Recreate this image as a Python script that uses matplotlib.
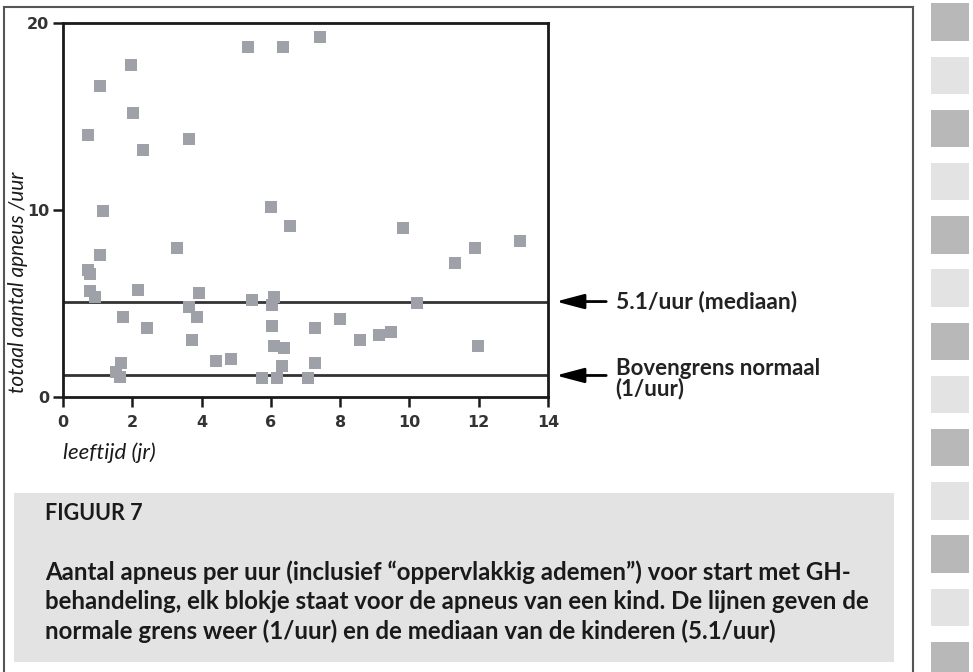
import matplotlib
matplotlib.use("Agg")
import matplotlib.pyplot as plt
from matplotlib.patches import Rectangle
from matplotlib.lines import Line2D

# leeftijd (jr) en aantal apneus per uur per kind
ages = [0.72, 1.06, 1.97, 2.03, 2.32, 1.15, 1.06, 0.72, 0.79, 0.79, 0.93, 2.17,
        1.73, 2.42, 1.67, 1.53, 1.65, 3.30, 3.64, 3.64, 3.87, 3.94, 3.71, 4.43,
        4.85, 5.35, 6.36, 7.41, 6.00, 6.56, 5.45, 6.10, 6.04, 6.04, 6.09, 6.37,
        6.32, 5.75, 6.17, 7.06, 7.28, 7.28, 8.01, 8.56, 9.13, 9.48, 9.81, 10.23,
        11.32, 11.90, 11.98, 13.18]
apneas = [14.02, 16.64, 17.73, 15.18, 13.18, 9.96, 7.59, 6.79, 6.57, 5.68, 5.36, 5.71,
          4.25, 3.68, 1.80, 1.36, 1.09, 7.95, 13.79, 4.79, 4.25, 5.57, 3.02, 1.93,
          2.05, 18.68, 18.68, 19.21, 10.14, 9.14, 5.20, 5.32, 4.93, 3.80, 2.73, 2.64,
          1.63, 1.04, 1.00, 1.04, 1.80, 3.68, 4.16, 3.02, 3.30, 3.45, 9.04, 5.02,
          7.16, 7.95, 2.73, 8.36]

median_line = 5.1
normal_line = 1.15
ref_labels = ["5.1/uur (mediaan)", "Bovengrens normaal\n(1/uur)"]

x_ticks = [0, 2, 4, 6, 8, 10, 12, 14]
y_ticks = [0, 10, 20]

caption_title = "FIGUUR 7"
caption_lines = [
    "Aantal apneus per uur (inclusief \u201coppervlakkig ademen\u201d) voor start met GH-",
    "behandeling, elk blokje staat voor de apneus van een kind. De lijnen geven de",
    "normale grens weer (1/uur) en de mediaan van de kinderen (5.1/uur)",
]

W, H = 973, 672
fig = plt.figure(figsize=(W / 100, H / 100), dpi=100)

def px(x, y):
    # pixel (from top-left) -> figure fraction
    return x / W, 1 - y / H

# outer frame (open at the bottom)
frame_col = "#555555"
for (x1, y1), (x2, y2) in [((4, 672), (4, 6.7)), ((4, 6.7), (913, 6.7)), ((913, 6.7), (913, 672))]:
    a, b = px(x1, y1)
    c, d = px(x2, y2)
    fig.add_artist(Line2D([a, c], [b, d], color=frame_col, lw=1.5, transform=fig.transFigure))

# decorative strip on the right
for k in range(13):
    top = 3.3 + 53.2 * k
    colr = "#b9b8b8" if k % 2 == 0 else "#e3e3e3"
    x0, y0 = px(931, top + 37.5)
    fig.add_artist(Rectangle((x0, y0), 38 / W, 37.5 / H, transform=fig.transFigure,
                             facecolor=colr, edgecolor="none"))

# caption box
cx, cy = px(14, 662)
fig.add_artist(Rectangle((cx, cy), 880 / W, 169 / H, transform=fig.transFigure,
                         facecolor="#e3e3e3", edgecolor="none"))

cap_font = "Lato"
fig.text(*px(45, 514), caption_title, fontsize=15.5, fontweight="bold",
         family=cap_font, va="center", ha="left", color="#1a1a1a")
for i, line in enumerate(caption_lines):
    fig.text(*px(45, 572 + 29.5 * i), line, fontsize=17.3, fontweight="bold",
             family=cap_font, va="center", ha="left", color="#1a1a1a")

# scatter axes
ax = fig.add_axes([63 / W, 1 - 397 / H, (548 - 63) / W, (397 - 22.7) / H])
ax.scatter(ages, apneas, marker="s", s=82, color="#9ea2a8", linewidths=0, zorder=3,
           clip_on=False)
ax.axhline(median_line, color="#333333", lw=2, zorder=2)
ax.axhline(normal_line, color="#333333", lw=2, zorder=2)

ax.set_xlim(0, 14)
ax.set_ylim(0, 20)
ax.set_xticks(x_ticks)
ax.set_yticks(y_ticks)
for sp in ax.spines.values():
    sp.set_linewidth(2)
    sp.set_color("#1a1a1a")
ax.tick_params(direction="out", length=7, width=1.8, color="#1a1a1a",
               labelsize=11.5, labelcolor="#333333")
ax.tick_params(axis="x", pad=6)
ax.tick_params(axis="y", pad=3)
for lab in ax.get_xticklabels() + ax.get_yticklabels():
    lab.set_fontweight("bold")
    lab.set_family("Liberation Sans Narrow")

# arrows + labels for reference lines
for yv in [median_line, normal_line]:
    ax.annotate("", xy=(14.23, yv), xytext=(15.68, yv), xycoords="data",
                annotation_clip=False,
                arrowprops=dict(arrowstyle="-|>,head_length=1.7,head_width=0.45",
                                color="black", lw=2, shrinkA=0, shrinkB=0,
                                mutation_scale=10))
ax.text(15.95, median_line, ref_labels[0], fontsize=16.5, fontweight="bold", family="Lato",
        va="center", ha="left", color="#222222", clip_on=False)
ax.text(15.95, 1.0, ref_labels[1], fontsize=16, fontweight="bold",
        family="Lato", va="center", ha="left", color="#222222", clip_on=False,
        linespacing=0.92)

# axis labels
fig.text(*px(18, 282), "totaal aantal apneus /uur", rotation=90, fontsize=15,
         style="italic", family="Lato", va="center", ha="center", color="#1a1a1a")
fig.text(*px(63, 453), "leeftijd (jr)", fontsize=16, style="italic", family="Lato",
         va="center", ha="left", color="#1a1a1a")

fig.savefig("out.png", dpi=100)
